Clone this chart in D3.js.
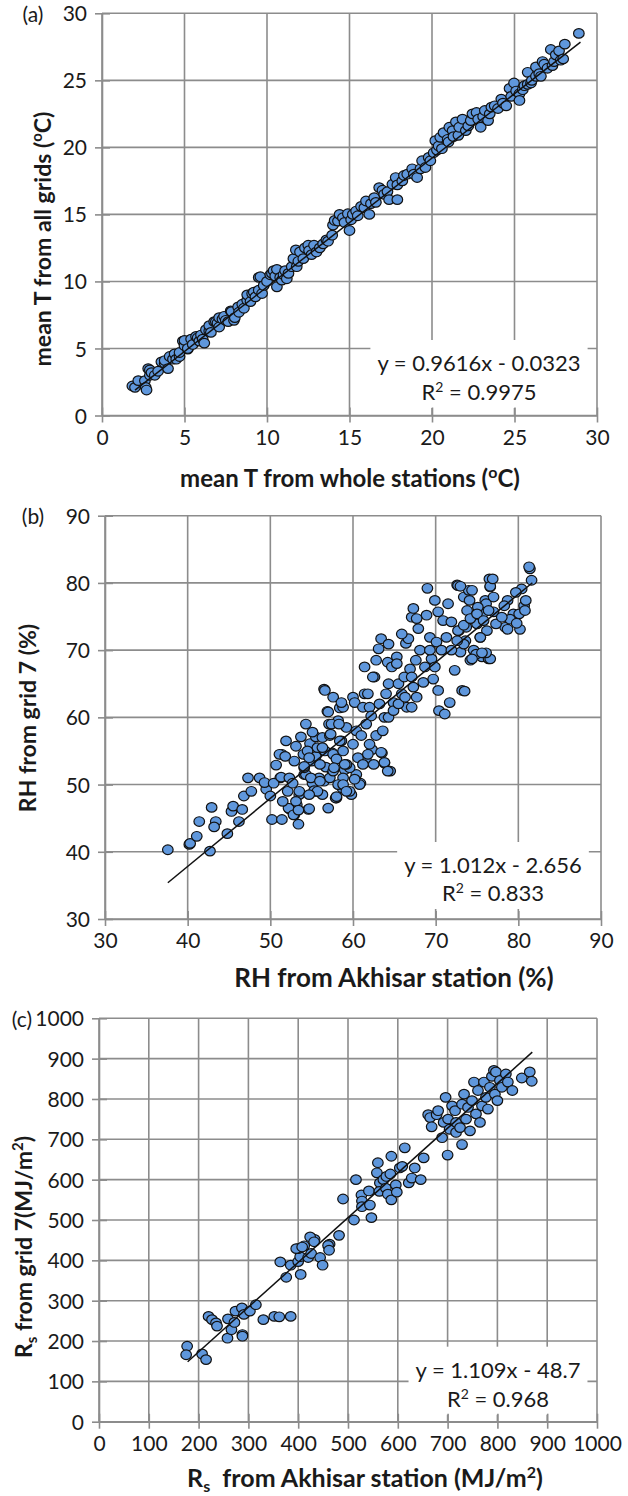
<!DOCTYPE html>
<html><head><meta charset="utf-8">
<script src="https://cdn.jsdelivr.net/npm/d3@7"></script>
<style>
body{margin:0;background:#fff}
svg{display:block}
text{font-family:Lato,"Open Sans",sans-serif;fill:#1a1a1a;white-space:pre}
</style>
</head><body>
<svg id="chart" width="628" height="1496"></svg>
<script>
// ---------- tick labels ----------
const tempTicks = [0,5,10,15,20,25,30];
const rhTicks = [30,40,50,60,70,80,90];
const rsTicks = [0,100,200,300,400,500,600,700,800,900,1000];

// ---------- (a) mean T: [whole stations, all grids] ----------
const tempPoints = [
[1.84,2.2],[2.0,2.1],[2.2,2.6],[2.6,2.6],[2.65,2.1],[2.7,1.9],[2.8,3.5],[2.9,3.0],[2.9,3.4],[3.0,3.2],
[3.2,3.0],[3.4,3.3],[3.6,4.0],[3.8,3.9],[3.8,4.1],[4.0,3.5],[4.1,4.4],[4.3,4.2],[4.4,4.6],[4.5,4.2],
[4.7,4.4],[4.7,4.7],[4.9,5.55],[5.0,5.2],[5.0,5.6],[5.2,4.95],[5.2,5.0],[5.4,5.7],[5.5,5.3],[5.7,5.9],
[5.8,5.8],[5.9,5.55],[6.0,6.0],[6.1,5.7],[6.2,5.4],[6.3,6.4],[6.5,6.3],[6.5,6.7],[6.6,6.2],[6.8,7.0],
[6.9,7.0],[7.0,6.9],[7.1,6.6],[7.1,7.3],[7.3,7.2],[7.4,7.4],[7.5,7.1],[7.65,7.0],[7.8,7.8],[7.85,7.75],
[8.0,7.1],[8.05,7.3],[8.25,8.1],[8.3,7.7],[8.5,8.3],[8.6,8.0],[8.8,8.6],[8.8,9.0],[9.0,8.5],[9.1,9.1],
[9.2,9.2],[9.3,8.85],[9.5,9.35],[9.5,10.3],[9.6,10.35],[9.7,9.1],[9.8,9.7],[10.0,10.0],[10.2,10.5],[10.3,10.6],
[10.4,10.8],[10.5,10.4],[10.6,9.6],[10.6,10.9],[10.8,10.3],[10.9,10.1],[11.0,10.5],[11.1,10.8],[11.2,10.2],[11.3,10.6],
[11.5,11.1],[11.6,11.7],[11.75,12.35],[11.8,11.1],[11.9,11.5],[12.0,12.2],[12.2,11.7],[12.3,12.5],[12.5,12.7],[12.55,12.3],
[12.7,12.0],[12.85,12.7],[13.0,12.2],[13.2,12.5],[13.4,12.8],[13.6,13.1],[13.7,13.0],[13.95,13.45],[14.0,14.2],[14.1,14.55],
[14.3,14.5],[14.4,15.0],[14.6,14.75],[14.7,14.4],[14.9,15.05],[15.0,13.8],[15.1,14.6],[15.2,15.0],[15.4,15.25],[15.5,14.9],
[15.7,15.6],[15.9,15.5],[16.0,16.0],[16.2,15.0],[16.3,15.8],[16.5,16.25],[16.6,15.9],[16.8,17.0],[17.0,16.8],[17.1,16.5],
[17.3,16.7],[17.4,16.1],[17.6,17.25],[17.8,17.75],[17.9,16.1],[17.9,17.2],[18.2,17.5],[18.3,17.9],[18.5,18.0],[18.8,18.4],
[18.9,18.0],[19.1,17.75],[19.3,18.4],[19.4,19.0],[19.6,18.5],[19.8,19.25],[19.9,19.0],[20.1,19.6],[20.2,20.5],[20.3,19.8],
[20.4,20.1],[20.5,20.75],[20.6,19.9],[20.7,21.1],[20.95,20.6],[21.0,20.4],[21.05,21.5],[21.25,21.25],[21.3,20.8],[21.45,21.9],
[21.6,20.9],[21.65,21.5],[21.85,22.1],[22.05,21.25],[22.2,21.6],[22.35,22.0],[22.45,22.5],[22.7,22.6],[22.8,22.1],[22.95,21.5],
[23.1,22.3],[23.2,22.75],[23.4,22.0],[23.5,22.5],[23.6,23.0],[23.8,23.1],[24.0,22.9],[24.2,23.6],[24.3,23.3],[24.5,23.1],
[24.7,24.4],[24.8,23.8],[24.97,24.8],[25.1,24.2],[25.3,24.0],[25.3,23.5],[25.5,24.3],[25.6,24.6],[25.8,25.6],[25.8,24.7],
[26.0,24.8],[26.05,25.0],[26.3,26.0],[26.3,25.3],[26.5,25.5],[26.6,25.3],[26.7,26.4],[26.8,26.2],[27.0,25.9],[27.2,27.3],
[27.3,26.1],[27.4,26.4],[27.5,26.9],[27.7,27.2],[27.8,26.5],[27.95,26.6],[28.05,27.7],[28.9,28.5]
];
const tempFit = {slope:0.9616, intercept:-0.0323, from:2, to:29, eq:"y = 0.9616x - 0.0323", r2:"0.9975"};

// ---------- (b) RH: [Akhisar station, grid 7] ----------
const rhPoints = [
[37.6,40.3],[40.2,41.1],[40.3,41.25],[41.1,42.3],[41.4,44.5],[42.7,40.1],[42.9,46.6],[43.4,44.5],[43.2,43.7],[44.8,42.7],
[45.3,46.0],[45.5,46.8],[46.2,44.5],[46.6,46.3],[46.8,48.3],[47.3,51.0],[47.7,49.0],[48.7,51.0],[49.5,49.3],[50.0,48.3],
[50.2,44.8],[51.4,44.8],[51.2,51.0],[51.4,54.5],[52.4,46.3],[52.9,45.5],[53.4,44.1],[53.2,47.0],[53.5,48.5],[54.1,51.5],
[54.6,46.3],[55.0,53.5],[55.5,49.0],[56.0,55.0],[56.5,50.5],[57.0,46.5],[57.5,52.0],[58.0,48.0],[58.7,49.5],[59.0,52.2],
[59.8,48.5],[60.4,51.5],[60.9,50.2],[61.6,53.5],[62.3,55.2],[63.5,54.7],[63.8,53.2],[64.5,52.0],[62.5,53.0],
[49.3,50.3],[50.4,50.2],[50.7,52.9],[51.1,54.5],[51.9,56.5],[51.3,51.1],[52.1,49.0],[52.2,46.5],[52.8,45.5],[53.1,47.5],
[53.4,46.2],[53.5,49.0],[52.9,53.5],[53.1,55.7],[53.7,57.1],[54.0,54.5],[54.3,51.5],[54.7,46.4],[54.8,56.1],[55.1,50.2],
[55.5,57.1],[55.5,54.2],[55.9,51.0],[56.3,48.5],[56.5,64.2],[56.9,60.9],[57.1,59.0],[56.7,52.6],[57.5,54.7],[57.9,48.0],
[58.2,59.5],[58.4,61.4],[58.6,56.5],[58.8,51.0],[59.2,58.5],[54.5,55.0],[54.1,52.5],[54.9,51.0],[55.3,49.1],[56.0,53.0],
[56.6,55.0],[57.2,51.0],[57.6,54.5],[58.2,50.0],[58.4,56.5],[59.6,52.5],[60.0,56.0],[60.6,54.0],[60.8,50.0],[61.2,53.0],
[61.8,54.5],[62.0,56.0],[63.4,54.8],[63.8,53.3],[64.2,52.0],[56.6,64.0],[57.0,60.8],[57.4,59.0],[58.3,59.0],[60.0,63.0],
[60.2,62.2],[61.4,63.5],[61.2,61.5],[62.0,61.5],[62.2,60.2],[62.6,66.0],[63.1,70.2],[63.2,62.0],[63.8,60.0],[64.0,63.5],
[64.2,68.2],[64.3,65.0],[64.7,67.5],[64.9,62.2],[65.3,69.0],[65.5,65.0],[65.9,63.5],[66.2,66.0],[66.4,71.0],[66.5,61.5],
[66.9,67.2],[67.1,61.5],[67.3,64.5],[67.6,68.5],[67.9,73.2],[68.1,70.0],[68.5,65.2],[68.9,75.2],[69.0,79.2],[69.3,71.9],
[69.5,68.7],[69.7,65.7],[70.1,71.2],[70.3,64.0],[70.4,61.0],[69.9,77.4],[70.3,75.7],[70.9,74.4],[71.1,60.5],[71.5,76.9],
[71.7,62.2],[71.9,74.2],[72.3,67.0],[72.6,79.7],[72.8,72.9],[73.0,69.7],[73.2,64.0],[73.4,77.9],[73.6,71.4],[73.8,75.9],
[74.0,78.9],[74.2,68.5],[74.6,70.0],[75.0,73.9],[75.2,76.2],[75.4,71.9],[75.6,69.0],[76.0,77.4],[76.2,72.9],[76.4,68.7],
[76.5,80.6],[76.6,79.4],[77.0,75.7],[67.1,74.9],[67.7,74.7],[67.3,76.2],[65.3,68.0],[66.7,71.7],[65.9,72.4],[63.4,71.7],
[62.8,68.5],[64.3,70.9],[61.4,67.5],[62.4,66.0],[61.8,63.5],[58.8,61.5],[57.6,63.0],[58.6,62.2],
[81.4,82.1],[81.3,82.4],[81.6,80.4],[80.4,79.1],[80.2,73.1],[80.7,76.6],[80.9,77.4],[79.7,78.6],[78.7,77.4],[78.4,73.4],
[79.4,75.4],[79.0,74.6],[77.3,73.9],[77.0,77.9],[76.6,79.5],[76.9,80.6],[76.1,76.9],[75.8,75.6],[75.1,76.4],[76.6,68.7],
[74.4,78.9],[74.1,77.4],[73.7,73.4],[73.4,70.9],[72.7,79.6],[73.0,79.5],[72.7,72.9],[73.5,63.9],[75.4,71.9],[76.1,69.6],
[74.9,69.4],[75.6,69.6],[74.4,68.7],[78.0,74.9],[78.3,76.6],[80.1,75.4],[79.8,74.0],[80.8,75.9],[78.7,73.1],
[54.3,59.0],[55.1,57.8],[55.7,55.5],[56.3,57.0],[57.2,57.3],[58.0,53.8],[58.8,55.0],[59.2,53.0],[60.4,58.0],[61.0,57.3],
[61.6,59.0],[62.8,57.3],[63.6,58.0],[64.3,60.0],[64.9,61.0],[65.5,62.0],[66.3,63.0],[67.1,66.0],[67.7,63.0],[68.7,67.5],
[69.3,70.0],[69.9,67.5],[70.7,70.0],[71.3,71.9],[71.9,70.0],[72.6,71.4],[73.4,73.7],[74.2,74.7],[75.0,75.4],[75.8,74.4],
[76.4,75.9],[54.7,54.0],[56.0,50.5],[57.6,52.0],[58.8,50.0],[60.2,50.8],[59.6,49.0],[58.0,48.2],
[52.3,51.0],[54.1,52.7],[55.7,49.0],[54.7,48.5],[56.3,55.5],[57.7,52.5],[57.3,57.5],[59.0,53.0],[59.2,49.0],[51.8,54.2],
[52.7,50.2],[51.5,47.5]
];
const rhFit = {slope:1.012, intercept:-2.656, from:37.6, to:81.7, eq:"y = 1.012x - 2.656", r2:"0.833"};

// ---------- (c) Rs: [Akhisar station, grid 7] ----------
const rsPoints = [
[177,187],[175,166],[207,168],[215,154],[220,261],[227,253],[235,245],[237,237],[259,255],[258,207],
[266,228],[272,246],[274,274],[287,282],[288,216],[288,212],[291,266],[303,274],[315,290],[330,253],
[352,261],[362,260],[385,261],[364,396],[376,358],[385,388],[400,397],[404,409],[405,365],[420,407],
[426,417],[433,452],[444,407],[449,388],[463,440],[400,429],[412,436],[396,429],[408,433],[424,458],
[432,446],[460,437],[462,425],[482,462],[490,552],[512,500],[516,600],[527,562],[528,547],[528,533],
[547,506],[544,537],[542,572],[560,642],[558,617],[564,592],[563,571],[571,600],[576,579],[577,608],
[580,564],[587,550],[585,614],[587,658],[596,587],[598,569],[604,629],[609,633],[614,679],[622,592],
[628,604],[634,629],[646,600],[652,654],[661,761],[665,754],[668,731],[678,761],[681,771],[689,704],
[692,742],[696,804],[700,661],[701,750],[704,725],[709,783],[715,771],[717,742],[717,717],[725,729],
[729,687],[729,787],[733,812],[737,750],[741,779],[745,721],[749,796],[753,842],[757,763],[761,821],
[765,742],[769,783],[773,842],[777,804],[781,775],[785,829],[789,856],[793,871],[795,812],[797,867],
[800,796],[805,846],[809,829],[817,862],[821,842],[830,821],[849,852],[865,867],[869,844]
];
const rsFit = {slope:1.109, intercept:-48.7, from:178, to:870, eq:"y = 1.109x - 48.7", r2:"0.968"};

// ---------- layout ----------
const svg = d3.select("#chart");
const FONT_TICK = 21, FONT_EQ = 22;

const panels = [
  {tag:"(a)", pts:tempPoints, fit:tempFit, ticks:tempTicks, dom:[0,30],
   L:102, R:597, T:13.3, B:415.5,
   tagPos:[33,22], eqX:118, eqY1:44.5, eqY2:15.5,
   xTitle:[{t:"mean T from whole stations ("},{t:"o",sup:true},{t:"C)"}], xTitlePos:[350,487], xSize:24,
   yTitle:[{t:"mean T from all grids ("},{t:"o",sup:true},{t:"C)"}], yTitleX:43, yTitleY:239, ySize:23},
  {tag:"(b)", pts:rhPoints, fit:rhFit, ticks:rhTicks, dom:[30,90],
   L:105, R:601, T:515.7, B:919,
   tagPos:[33,524], eqX:108, eqY1:46, eqY2:18,
   xTitle:[{t:"RH from Akhisar station (%)"}], xTitlePos:[394,987], xSize:26,
   yTitle:[{t:"RH from grid 7 (%)"}], yTitleX:28, yTitleY:718, ySize:23},
  {tag:"(c)", pts:rsPoints, fit:rsFit, ticks:rsTicks, dom:[0,1000],
   L:99, R:597, T:1018.3, B:1421.7,
   tagPos:[22,1027], eqX:99, eqY1:44, eqY2:15,
   xTitle:[{t:"R"},{t:"s",sub:true},{t:"  from Akhisar station (MJ/m"},{t:"2",sup:true},{t:")"}], xTitlePos:[365,1487], xSize:25,
   yTitle:[{t:"R"},{t:"s",sub:true},{t:" from grid 7(MJ/m"},{t:"2",sup:true},{t:")"}], yTitleX:24, yTitleY:1247, ySize:23}
];

function rich(textSel, parts, size){
  const small = Math.round(size*0.65);
  const up = size*0.38, down = size*0.2;
  let pending = 0;
  parts.forEach(p=>{
    const ts = textSel.append("tspan").text(p.t);
    let shift = 0;
    if(p.sup){ ts.attr("font-size",small); shift = -up; }
    else if(p.sub){ ts.attr("font-size",small); shift = down; }
    const dy = pending + shift;
    if(dy !== 0) ts.attr("dy",dy);
    pending = -shift;
  });
}

const GRID = "#8c8c8c";

panels.forEach(p=>{
  const x = d3.scaleLinear().domain(p.dom).range([p.L,p.R]);
  const y = d3.scaleLinear().domain(p.dom).range([p.B,p.T]);
  const g = svg.append("g");

  // gridlines
  g.append("g").selectAll("line").data(p.ticks).join("line")
    .attr("x1",d=>x(d)).attr("x2",d=>x(d)).attr("y1",p.T).attr("y2",p.B)
    .attr("stroke",GRID).attr("stroke-width",1.6);
  g.append("g").selectAll("line").data(p.ticks).join("line")
    .attr("y1",d=>y(d)).attr("y2",d=>y(d)).attr("x1",p.L).attr("x2",p.R)
    .attr("stroke",GRID).attr("stroke-width",1.6);

  // points
  g.append("g").selectAll("ellipse").data(p.pts).join("ellipse")
    .attr("cx",d=>x(d[0])).attr("cy",d=>y(d[1]))
    .attr("rx",5.3).attr("ry",4.8)
    .attr("fill","#5f97dc").attr("stroke","#111").attr("stroke-width",1.2);

  // trend line
  const f = p.fit;
  g.append("line")
    .attr("x1",x(f.from)).attr("y1",y(f.slope*f.from+f.intercept))
    .attr("x2",x(f.to)).attr("y2",y(f.slope*f.to+f.intercept))
    .attr("stroke","#111").attr("stroke-width",1.5);

  // equation label with white box
  const eg = g.append("g");
  const box = eg.append("rect").attr("fill","#fff");
  const cx = p.R - p.eqX;
  eg.append("text").attr("x",cx).attr("y",p.B-p.eqY1).attr("text-anchor","middle")
    .attr("font-size",FONT_EQ).text(f.eq);
  const t2 = eg.append("text").attr("x",cx).attr("y",p.B-p.eqY2).attr("text-anchor","middle")
    .attr("font-size",FONT_EQ);
  t2.append("tspan").text("R");
  t2.append("tspan").attr("font-size",14).attr("dy",-8).text("2");
  t2.append("tspan").attr("dy",8).text(" = "+f.r2);
  const bb = eg.node().getBBox();
  box.attr("x",bb.x-7).attr("y",bb.y-9).attr("width",bb.width+14).attr("height",bb.height+12);

  // axes
  const xa = g.append("g").attr("transform",`translate(0,${p.B})`)
    .call(d3.axisBottom(x).tickValues(p.ticks).tickSizeOuter(0).tickFormat(d3.format("d")));
  xa.select(".domain").attr("stroke",GRID).attr("stroke-width",1.6);
  xa.selectAll(".tick line").attr("y1",-8).attr("y2",7).attr("stroke",GRID).attr("stroke-width",1.6);
  xa.selectAll(".tick text").attr("y",29).attr("dy",null).attr("font-size",FONT_TICK)
    .attr("fill","#1a1a1a").attr("font-family","Lato");

  const ya = g.append("g").attr("transform",`translate(${p.L},0)`)
    .call(d3.axisLeft(y).tickValues(p.ticks).tickSizeOuter(0).tickFormat(d3.format("d")));
  ya.select(".domain").attr("stroke",GRID).attr("stroke-width",1.6);
  ya.selectAll(".tick line").attr("x1",-7).attr("x2",8).attr("stroke",GRID).attr("stroke-width",1.6);
  ya.selectAll(".tick text").attr("x",-15).attr("dy","0.36em").attr("font-size",FONT_TICK)
    .attr("fill","#1a1a1a").attr("font-family","Lato");

  // panel tag
  g.append("text").attr("x",p.tagPos[0]).attr("y",p.tagPos[1]).attr("text-anchor","middle")
    .attr("font-size",21).text(p.tag);

  // axis titles
  const xt = g.append("text").attr("x",p.xTitlePos[0]).attr("y",p.xTitlePos[1])
    .attr("text-anchor","middle").attr("font-weight","bold").attr("font-size",p.xSize);
  rich(xt,p.xTitle,p.xSize);
  const yt = g.append("text").attr("transform",`translate(${p.yTitleX+8},${p.yTitleY}) rotate(-90)`)
    .attr("text-anchor","middle").attr("font-weight","bold").attr("font-size",p.ySize);
  rich(yt,p.yTitle,p.ySize);
});
</script>
</body></html>
